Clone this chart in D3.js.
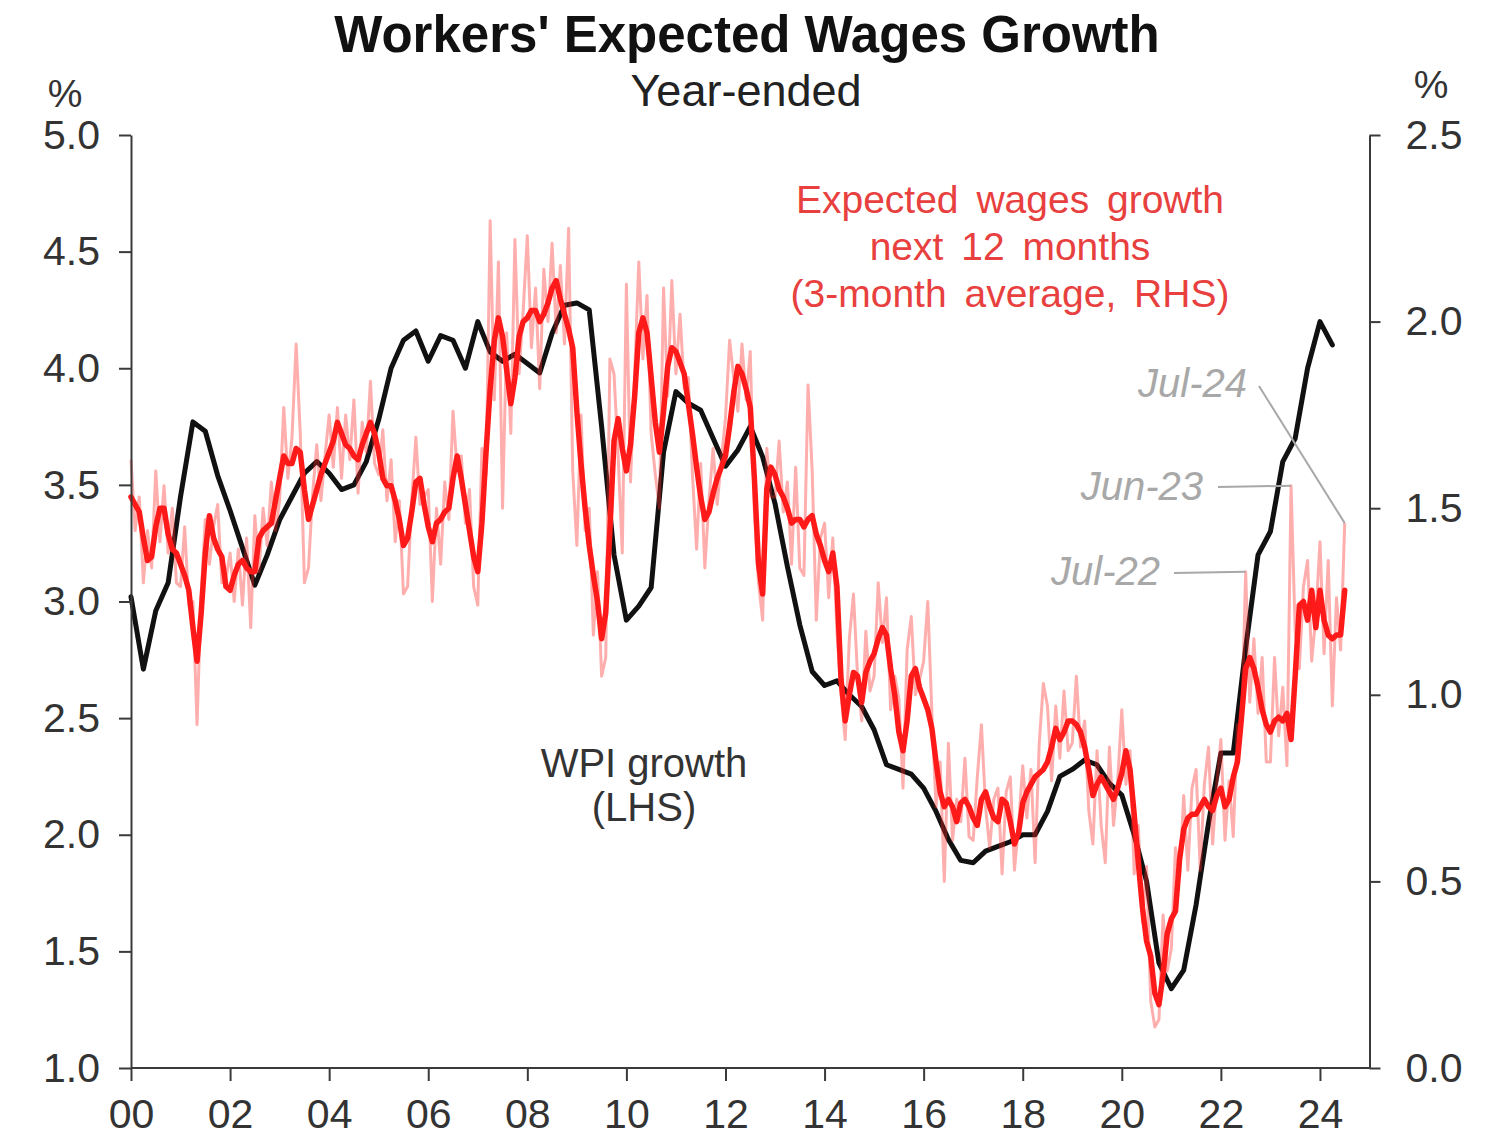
<!DOCTYPE html>
<html>
<head>
<meta charset="utf-8">
<script src="https://cdnjs.cloudflare.com/ajax/libs/d3/7.8.5/d3.min.js"></script>
<style>
  body { margin: 0; background: #fff; }
  svg { display: block; }
  text { font-family: "Liberation Sans", Arial, Helvetica, sans-serif; }
</style>
</head>
<body>
<svg id="chart" width="1509" height="1147"></svg>
<script>
// ---------------- DATA ----------------
const xTickYears  = [2000, 2002, 2004, 2006, 2008, 2010, 2012, 2014, 2016, 2018, 2020, 2022, 2024];
const xTickLabels = ["00", "02", "04", "06", "08", "10", "12", "14", "16", "18", "20", "22", "24"];
const leftTicks   = [1.0, 1.5, 2.0, 2.5, 3.0, 3.5, 4.0, 4.5, 5.0];
const rightTicks  = [0.0, 0.5, 1.0, 1.5, 2.0, 2.5];

// WPI growth, year-ended %, quarterly from 2000 Q1 (LHS)
const wpiStartYear = 2000;
const wpiGrowth = [
  3.02, 2.71, 2.96, 3.08,
  3.45, 3.77, 3.73, 3.54,
  3.39, 3.23, 3.07, 3.20,
  3.35, 3.45, 3.55, 3.60,
  3.55, 3.48, 3.50, 3.60,
  3.78, 4.00, 4.12, 4.16,
  4.03, 4.14, 4.12, 4.00,
  4.20, 4.07, 4.03, 4.06,
  4.02, 3.98, 4.15, 4.27,
  4.28, 4.25, 3.75, 3.20,
  2.92, 2.98, 3.06, 3.64,
  3.90, 3.85, 3.82, 3.70,
  3.58, 3.65, 3.75, 3.62,
  3.42, 3.15, 2.90, 2.70,
  2.64, 2.66, 2.60, 2.55,
  2.45, 2.30, 2.28, 2.26,
  2.20, 2.10, 1.98, 1.89,
  1.88, 1.93, 1.95, 1.97,
  2.00, 2.00, 2.10, 2.25,
  2.28, 2.32, 2.30, 2.22,
  2.17, 2.00, 1.80, 1.45,
  1.34, 1.42, 1.70, 2.05,
  2.35, 2.35, 2.80, 3.20,
  3.30, 3.60, 3.70, 4.00,
  4.20, 4.10
];

// Expected wages growth next 12 months, monthly from Jan 2000 (RHS)
const expStartYear = 2000;
// 3-month average
const expAvg = [
  1.53,1.51,1.49,1.42,1.36,1.37,1.45,1.50,1.50,1.43,1.39,1.38,
  1.35,1.32,1.28,1.18,1.09,1.22,1.38,1.48,1.42,1.39,1.37,1.29,
  1.28,1.32,1.35,1.36,1.34,1.33,1.33,1.42,1.44,1.45,1.46,1.52,
  1.58,1.64,1.62,1.62,1.66,1.65,1.55,1.47,1.51,1.55,1.59,1.62,
  1.65,1.68,1.73,1.70,1.67,1.66,1.64,1.63,1.67,1.70,1.73,1.70,
  1.65,1.58,1.56,1.56,1.52,1.47,1.40,1.42,1.49,1.57,1.58,1.51,
  1.45,1.41,1.46,1.47,1.49,1.50,1.58,1.64,1.58,1.51,1.44,1.37,
  1.33,1.46,1.65,1.82,1.95,2.01,1.96,1.87,1.78,1.85,1.96,2.00,
  2.01,2.03,2.03,2.00,2.02,2.05,2.09,2.11,2.06,2.02,1.98,1.93,
  1.76,1.62,1.50,1.40,1.32,1.25,1.15,1.22,1.44,1.68,1.74,1.66,
  1.60,1.67,1.80,1.97,2.01,1.97,1.85,1.73,1.65,1.76,1.88,1.93,
  1.92,1.89,1.86,1.78,1.70,1.61,1.53,1.47,1.49,1.54,1.58,1.61,
  1.64,1.72,1.81,1.88,1.86,1.82,1.77,1.58,1.35,1.27,1.55,1.61,
  1.59,1.55,1.53,1.50,1.46,1.47,1.47,1.45,1.47,1.48,1.43,1.40,
  1.36,1.33,1.38,1.29,1.04,0.93,1.00,1.06,1.05,0.98,1.06,1.09,
  1.11,1.15,1.18,1.16,1.07,1.00,0.90,0.85,0.93,1.05,1.07,1.02,
  0.99,0.96,0.91,0.82,0.74,0.70,0.72,0.70,0.66,0.71,0.72,0.70,
  0.67,0.65,0.72,0.74,0.70,0.67,0.66,0.72,0.71,0.66,0.60,0.63,
  0.71,0.74,0.76,0.78,0.79,0.80,0.82,0.86,0.91,0.88,0.90,0.93,
  0.93,0.92,0.90,0.86,0.80,0.73,0.76,0.78,0.76,0.74,0.72,0.75,
  0.79,0.85,0.80,0.68,0.55,0.43,0.34,0.30,0.20,0.17,0.25,0.36,
  0.40,0.42,0.56,0.64,0.67,0.68,0.68,0.70,0.72,0.70,0.69,0.73,
  0.75,0.70,0.72,0.78,0.82,0.94,1.07,1.10,1.07,1.02,0.96,0.92,
  0.90,0.93,0.94,0.93,0.95,0.88,1.05,1.24,1.25,1.20,1.28,1.18,
  1.28,1.20,1.16,1.15,1.16,1.16,1.28
];
// monthly readings
const expRaw = [
  1.63,1.44,1.53,1.30,1.44,1.34,1.60,1.41,1.56,1.38,1.50,1.30,
  1.29,1.45,1.24,1.25,0.92,1.27,1.47,1.35,1.45,1.51,1.30,1.31,
  1.38,1.25,1.39,1.24,1.42,1.18,1.48,1.33,1.50,1.40,1.57,1.44,
  1.52,1.77,1.58,1.69,1.94,1.70,1.30,1.34,1.54,1.67,1.52,1.64,
  1.75,1.61,1.77,1.58,1.75,1.63,1.79,1.54,1.73,1.65,1.84,1.62,
  1.59,1.71,1.52,1.63,1.41,1.52,1.27,1.29,1.52,1.69,1.51,1.53,
  1.55,1.25,1.50,1.35,1.57,1.47,1.76,1.60,1.64,1.46,1.55,1.29,
  1.24,1.66,1.59,2.27,1.79,2.16,1.50,1.97,1.70,2.22,1.86,2.03,
  2.23,1.93,2.09,1.82,2.14,2.00,2.21,1.97,2.15,1.94,2.25,1.60,
  1.40,1.75,1.44,1.50,1.16,1.33,1.05,1.10,1.90,1.86,1.64,1.38,
  2.10,1.57,1.86,2.16,1.90,2.07,1.70,1.59,1.50,2.09,1.80,2.11,
  1.86,2.02,1.82,1.85,1.59,1.39,1.62,1.34,1.52,1.66,1.51,1.63,
  1.74,1.95,1.85,1.76,1.94,1.79,1.92,1.49,1.30,1.20,1.66,1.53,
  1.53,1.68,1.49,1.57,1.35,1.61,1.34,1.32,1.83,1.60,1.20,1.42,
  1.46,1.26,1.42,1.17,1.00,0.88,1.15,1.27,1.05,0.93,1.17,1.01,
  1.05,1.30,1.14,1.26,0.96,1.05,0.99,0.75,1.12,1.21,1.00,1.04,
  1.09,1.25,0.95,0.70,0.82,0.50,0.87,0.61,0.72,0.66,0.83,0.62,
  0.61,0.78,0.92,0.70,0.59,0.72,0.75,0.52,0.74,0.78,0.53,0.65,
  0.81,0.67,0.80,0.55,0.87,1.03,0.97,0.77,0.97,0.83,1.01,0.85,
  0.87,1.05,0.86,0.93,0.69,0.60,0.85,0.65,0.55,0.86,0.65,0.77,
  0.96,0.76,0.85,0.52,0.65,0.39,0.54,0.18,0.11,0.13,0.41,0.26,
  0.32,0.59,0.51,0.73,0.53,0.75,0.80,0.53,0.76,0.86,0.60,0.76,
  0.88,0.61,0.77,0.62,0.92,0.90,1.33,0.98,1.15,0.95,1.10,0.82,
  0.82,1.10,0.89,1.02,0.81,1.56,1.17,1.07,1.29,1.36,1.09,1.21,
  1.41,1.11,1.36,0.97,1.26,1.12,1.46
];

// Highlighted monthly readings (label, year, month 1-12)
const calloutLabels = ["Jul-22", "Jun-23", "Jul-24"];
const calloutDates  = [[2022, 7], [2023, 6], [2024, 7]];

// ---------------- CHART ----------------
const svg = d3.select("#chart");
const W = 1509, H = 1147;
const m = { left: 131, right: 1369.5, top: 135, bottom: 1068 };

const x  = d3.scaleLinear().domain([2000, 2025]).range([m.left, m.right]);
const yL = d3.scaleLinear().domain([1, 5]).range([m.bottom, m.top]);
const yR = d3.scaleLinear().domain([0, 2.5]).range([m.bottom, m.top]);

const wpi = wpiGrowth.map((v, i) => ({ t: wpiStartYear + i * 0.25, v }));
const avg = expAvg.map((v, i) => ({ t: expStartYear + i / 12, v }));
const raw = expRaw.map((v, i) => ({ t: expStartYear + i / 12, v }));

// Lines
const lineL = d3.line().x(d => x(d.t)).y(d => yL(d.v));
const lineR = d3.line().x(d => x(d.t)).y(d => yR(d.v));

svg.append("path").datum(wpi)
  .attr("d", lineL).attr("fill", "none")
  .attr("stroke", "#111").attr("stroke-width", 5)
  .attr("stroke-linejoin", "round").attr("stroke-linecap", "round");

svg.append("path").datum(raw)
  .attr("d", lineR).attr("fill", "none")
  .attr("stroke", "#ff2a2a").attr("stroke-opacity", 0.38).attr("stroke-width", 3)
  .attr("stroke-linejoin", "round");

svg.append("path").datum(avg)
  .attr("d", lineR).attr("fill", "none")
  .attr("stroke", "#ff1a1a").attr("stroke-width", 5.5)
  .attr("stroke-linejoin", "round").attr("stroke-linecap", "round");

// Axes
const axisColor = "#3a3a3a";
function styleAxis(g) {
  g.selectAll("path.domain").attr("stroke", axisColor).attr("stroke-width", 2);
  g.selectAll(".tick line").attr("stroke", axisColor).attr("stroke-width", 2);
  g.selectAll(".tick text").attr("fill", "#333").attr("font-size", 41)
    .attr("font-family", "\"Liberation Sans\", Arial, sans-serif");
}

const gL = svg.append("g").attr("transform", `translate(${m.left},0)`)
  .call(d3.axisLeft(yL).tickValues(leftTicks).tickFormat(d3.format(".1f"))
    .tickSize(12).tickSizeOuter(0).tickPadding(19));
styleAxis(gL);

const gR = svg.append("g").attr("transform", `translate(${m.right},0)`)
  .call(d3.axisRight(yR).tickValues(rightTicks).tickFormat(d3.format(".1f"))
    .tickSize(11).tickSizeOuter(0).tickPadding(25));
styleAxis(gR);

const gB = svg.append("g").attr("transform", `translate(0,${m.bottom})`)
  .call(d3.axisBottom(x).tickValues(xTickYears).tickFormat((d, i) => xTickLabels[i])
    .tickSize(13).tickSizeOuter(0).tickPadding(18));
styleAxis(gB);
gB.select("path.domain").attr("d", `M${m.left},0H${m.right}`);

// Titles
svg.append("text").attr("x", 747).attr("y", 52).attr("text-anchor", "middle")
  .attr("font-size", 51).attr("font-weight", "bold").attr("fill", "#111")
  .text("Workers' Expected Wages Growth");
svg.append("text").attr("x", 746).attr("y", 106).attr("text-anchor", "middle")
  .attr("font-size", 45).attr("fill", "#222").text("Year-ended");

// Units
svg.append("text").attr("x", 65).attr("y", 107).attr("text-anchor", "middle")
  .attr("font-size", 39).attr("fill", "#333").text("%");
svg.append("text").attr("x", 1431).attr("y", 98).attr("text-anchor", "middle")
  .attr("font-size", 39).attr("fill", "#333").text("%");

// Series annotations
const redNote = ["Expected wages growth", "next 12 months", "(3-month average, RHS)"];
svg.append("g").selectAll("text").data(redNote).join("text")
  .attr("x", 1010).attr("y", (d, i) => 213 + i * 47)
  .attr("text-anchor", "middle").attr("font-size", 39)
  .attr("word-spacing", 7).attr("fill", "#e8403e").text(d => d);

const blackNote = ["WPI growth", "(LHS)"];
svg.append("g").selectAll("text").data(blackNote).join("text")
  .attr("x", 644).attr("y", (d, i) => 777 + i * 44)
  .attr("text-anchor", "middle").attr("font-size", 40)
  .attr("fill", "#333").text(d => d);

// Callouts for highlighted monthly readings
const calloutText = [
  { tx: 1160, ty: 585, lx: 1174, ly: 573 },
  { tx: 1203, ty: 500, lx: 1218, ly: 487 },
  { tx: 1247, ty: 397, lx: 1259, ly: 386 }
];
calloutLabels.forEach((lab, i) => {
  const [yy, mm] = calloutDates[i];
  const idx = (yy - expStartYear) * 12 + (mm - 1);
  const pt = raw[idx];
  const c = calloutText[i];
  svg.append("line")
    .attr("x1", c.lx).attr("y1", c.ly)
    .attr("x2", x(pt.t)).attr("y2", yR(pt.v))
    .attr("stroke", "#a8a8a8").attr("stroke-width", 2);
  svg.append("text").attr("x", c.tx).attr("y", c.ty).attr("text-anchor", "end")
    .attr("font-size", 40).attr("font-style", "italic").attr("fill", "#a8a8a8")
    .text(lab);
});
</script>
</body>
</html>
